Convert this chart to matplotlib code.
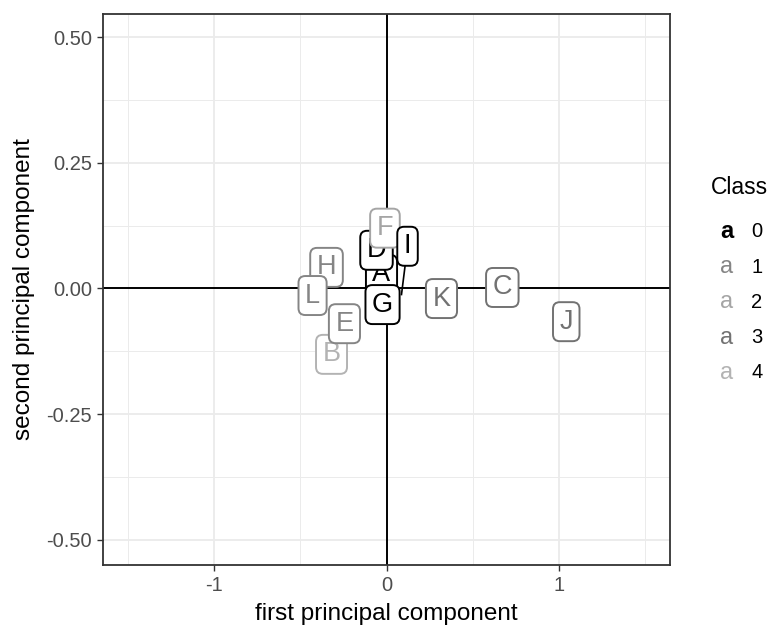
import matplotlib
matplotlib.use("Agg")
import matplotlib.pyplot as plt
from matplotlib.ticker import FixedLocator

plt.rcParams['font.family'] = ['Liberation Sans', 'DejaVu Sans']

# ---- data (label positions as shown) ----
labels = ['A', 'B', 'C', 'D', 'E', 'F', 'G', 'H', 'I', 'J', 'K', 'L']
pc1 = [-0.029, -0.319, 0.672, -0.058, -0.244, -0.009, -0.023, -0.348, 0.122, 1.043, 0.319, -0.429]
pc2 = [0.028, -0.131, 0.002, 0.076, -0.070, 0.120, -0.032, 0.042, 0.084, -0.066, -0.020, -0.014]
cls = [0, 4, 3, 0, 1, 2, 0, 1, 0, 3, 3, 1]
# point of I (label repelled, connected by segment)
seg_label = 'I'
seg_point = (0.087, -0.012)

class_names = ['0', '1', '2', '3', '4']
class_colors = ['#000000', '#858585', '#a5a5a5', '#727272', '#b3b3b3']

x_major = [-1, 0, 1]
x_minor = [-1.5, -0.5, 0.5, 1.5]
y_major = [-0.50, -0.25, 0.00, 0.25, 0.50]
y_minor = [-0.375, -0.125, 0.125, 0.375]

fig = plt.figure(figsize=(7.72, 6.33), dpi=100)
ax = fig.add_axes([103/772, 1-565/633, (670-103)/772, (565-14)/633])
ax.set_xlim(-1.645, 1.645)
ax.set_ylim(-0.55, 0.546)

ax.xaxis.set_major_locator(FixedLocator(x_major))
ax.xaxis.set_minor_locator(FixedLocator(x_minor))
ax.yaxis.set_major_locator(FixedLocator(y_major))
ax.yaxis.set_minor_locator(FixedLocator(y_minor))
ax.set_xticklabels([str(v) for v in x_major])
ax.set_yticklabels([f"{v:.2f}" for v in y_major])
ax.grid(which='major', color='#ebebeb', lw=1.3, zorder=0)
ax.grid(which='minor', color='#ebebeb', lw=0.7, zorder=0)
ax.set_axisbelow(True)
ax.tick_params(which='major', length=4, width=1, color='#333333', labelsize=14.5, labelcolor='#4d4d4d', pad=4)
ax.tick_params(which='minor', length=0)
for s in ax.spines.values():
    s.set_color('#333333')
    s.set_linewidth(1.3)

ax.axhline(0, color='black', lw=1.4, zorder=1)
ax.axvline(0, color='black', lw=1.4, zorder=1)

ax.set_xlabel('first principal component', fontsize=17.5, color='black', labelpad=6)
ax.set_ylabel('second principal component', fontsize=17.5, color='black', labelpad=8)

# segment for repelled label
i = labels.index(seg_label)
ax.plot([pc1[i], seg_point[0]], [pc2[i], seg_point[1]], color=class_colors[cls[i]], lw=1.2, zorder=2)

for k, (lab, x, y, c) in enumerate(zip(labels, pc1, pc2, cls)):
    col = class_colors[c]
    ax.text(x, y, lab, fontsize=19.5, color=col, ha='center', va='center', zorder=3 + k,
            bbox=dict(boxstyle='round,pad=0.24,rounding_size=0.25', fc='white', ec=col, lw=1.4))

# legend
fig.text(711/772, 1-187/633, 'Class', fontsize=16.5, ha='left', va='center')
for j, (name, col) in enumerate(zip(class_names, class_colors)):
    yy = 1 - (232 + 35.2*j)/633
    fig.text(727/772, yy, 'a', fontsize=17, color=col, ha='center', va='center',
             fontweight='bold' if j == 0 else 'normal')
    fig.text(757/772, yy, name, fontsize=14.5, color='black', ha='center', va='center')

fig.savefig('out.png', dpi=100)
